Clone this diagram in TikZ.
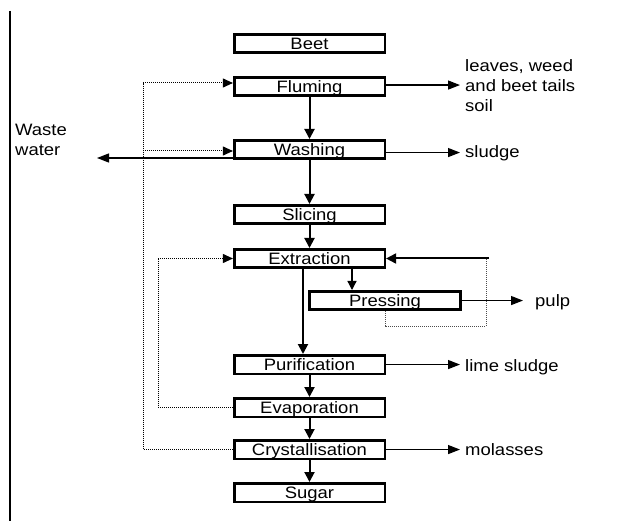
\documentclass[tikz,border=0pt]{standalone}
\usepackage{fontspec}
\setmainfont{Liberation Sans}[FakeStretch=1.12]
\usetikzlibrary{arrows.meta}
\begin{document}
\begin{tikzpicture}[x=1pt,y=-1pt,
  every node/.style={font=\fontsize{16.5}{20.3}\selectfont},
  box/.style={draw, line width=2.6pt, minimum width=150.6pt, text height=15.2pt, text depth=3.3pt, inner ysep=0pt, anchor=base},
  main/.style={line width=2pt, -{Triangle[length=10pt,width=10pt]}},
  thinarr/.style={line width=1.3pt, -{Triangle[length=9pt,width=9pt]}},
  side/.style={line width=1.3pt, -{Triangle[length=12pt,width=9pt]}},
  dots/.style={line width=1pt, dash pattern=on 1pt off 1pt},
  dottip/.style={dots, -{Triangle[length=10pt,width=9pt]}},
  outtext/.style={anchor=base west, inner xsep=5pt, inner ysep=0pt, align=left}]
\useasboundingbox (0,0) rectangle (621,521);
% left rule
\coordinate (ltop) at (10,11);
\coordinate (lbot) at (10,521);
\draw[line width=2pt] (ltop) -- (lbot);
% process boxes
\node[box] (beet) at (309.5,49.5) {Beet};
\node[box] (fluming) at (309.5,92.5) {Fluming};
\node[box] (washing) at (309.5,155.5) {Washing};
\node[box] (slicing) at (309.5,220.5) {Slicing};
\node[box] (extraction) at (309.5,264.5) {Extraction};
\node[box] (pressing) at (385,306.5) {Pressing};
\node[box] (purification) at (309.5,370.5) {Purification};
\node[box] (evaporation) at (309.5,413.5) {Evaporation};
\node[box] (crystallisation) at (309.5,455.5) {Crystallisation};
\node[box] (sugar) at (309.5,498.5) {Sugar};
% outputs
\node[outtext] (leaves) at (460,112) {leaves, weed\\and beet tails\\soil};
\node[outtext] (sludge) at (460,157.5) {sludge};
\node[outtext, inner xsep=12pt] (pulp) at (523,307) {pulp};
\node[outtext] (lime) at (460,371) {lime sludge};
\node[outtext] (molasses) at (460,455) {molasses};
\node[anchor=base west, align=left, inner sep=0pt] (waste) at (15,156) {Waste\\water};
% main flow
\draw[main] (fluming) -- (washing);
\draw[main] (washing) -- (slicing);
\draw[main] (slicing) -- (extraction);
\draw[main] ([xshift=-6.5pt]extraction.south) -- ([xshift=-6.5pt]purification.north);
\draw[thinarr] ([xshift=42.5pt]extraction.south) -- ([xshift=42.5pt]extraction.south |- pressing.north);
\draw[main] (purification) -- (evaporation);
\draw[main] (evaporation) -- (crystallisation);
\draw[main] (crystallisation) -- (sugar);
% side outputs
\draw[side] ([yshift=1.5pt]fluming.east) -- ([yshift=1.5pt]fluming.east -| leaves.west);
\draw[side] ([yshift=-3pt]washing.east) -- ([yshift=-3pt]washing.east -| sludge.west);
\draw[side] (pressing.east) -- (pressing.east -| pulp.west);
\draw[side] (purification.east) -- (purification.east -| lime.west);
\draw[side] (crystallisation.east) -- (crystallisation.east -| molasses.west);
\coordinate (wtip) at (97,158);
\draw[side] (washing.west |- wtip) -- (wtip);
% water recycle (outer)
\coordinate (lf) at (143,83);
\coordinate (lw) at (143,151);
\draw[dots] (crystallisation.west) -| (lf);
\draw[dottip] (lf) -- (lf -| fluming.west);
\draw[dottip] (lw) -- (lw -| washing.west);
% inner recycle
\coordinate (le) at (158,258.5);
\draw[dottip] (evaporation.west) -| (le) -- (le -| extraction.west);
% pressing recycle
\coordinate (pr) at (486,326);
\coordinate (ptop) at (486,258.5);
\coordinate (pt) at (489,258.5);
\draw[dots, line width=0.9pt, black!70] (pressing.south) |- (pr) -- (ptop);
\draw[main] (pt) -- (pt -| extraction.east);
\end{tikzpicture}
\end{document}
